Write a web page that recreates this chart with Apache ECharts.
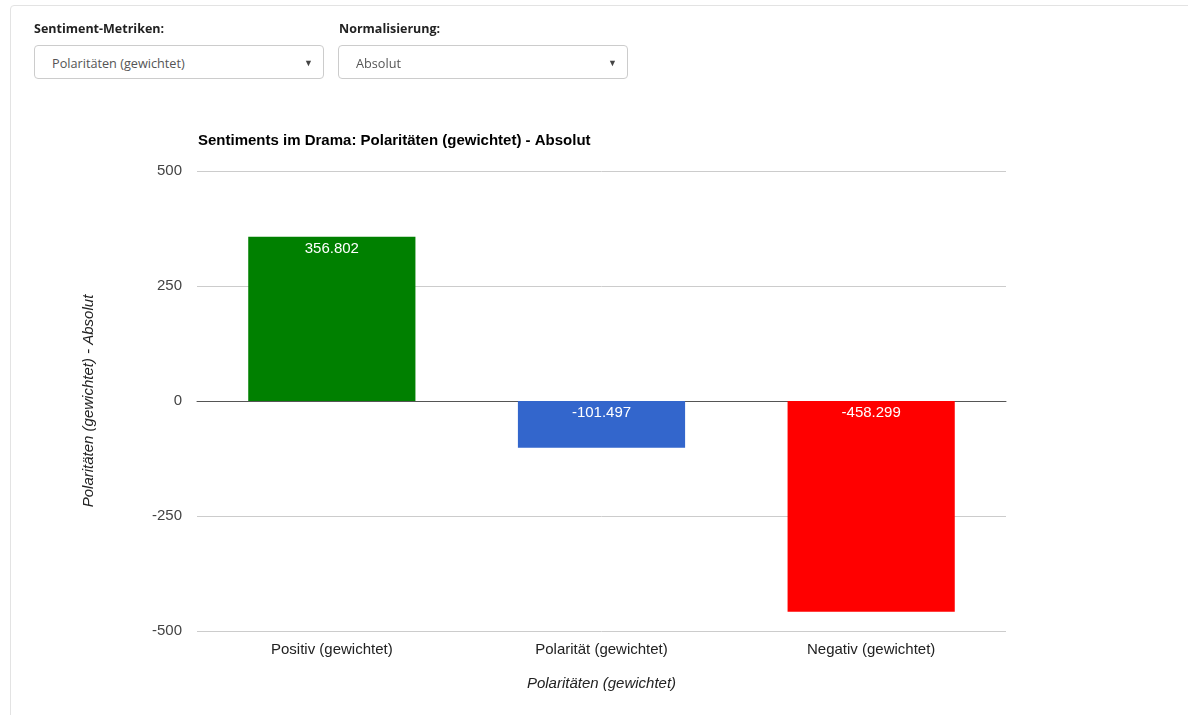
<!DOCTYPE html>
<html><head><meta charset="utf-8">
<script src="https://cdn.jsdelivr.net/npm/echarts@6/dist/echarts.min.js"></script>
<style>
html,body{margin:0;padding:0;background:#fff;width:1188px;height:715px;overflow:hidden;font-family:"Open Sans",sans-serif;}
#panel{position:absolute;left:10px;top:5px;width:1200px;height:720px;border:1px solid #e3e3e3;border-radius:4px;box-sizing:border-box;}
.lbl{position:absolute;top:20px;font-size:12.5px;font-weight:700;color:#222;}
.sel{position:absolute;top:45px;height:34px;border:1px solid #ccc;border-radius:4px;box-sizing:border-box;font-size:12.7px;color:#555;line-height:34px;padding-left:17px;background:#fff;}
.sel span.arr{position:absolute;right:10px;top:0;font-size:9px;color:#444;}
#chart{position:absolute;left:0;top:0;width:1188px;height:715px;}
</style></head>
<body>
<div id="panel"></div>
<div id="chart"></div>
<div class="lbl" style="left:34px">Sentiment-Metriken:</div>
<div class="lbl" style="left:339px">Normalisierung:</div>
<div class="sel" style="left:34px;width:290px">Polaritäten (gewichtet)<span class="arr">▼</span></div>
<div class="sel" style="left:338px;width:290px">Absolut<span class="arr">▼</span></div>
<script>
const categories = ["Positiv (gewichtet)", "Polarität (gewichtet)", "Negativ (gewichtet)"];
const values = [356.802, -101.497, -458.299];
const barColors = ["#008000", "#3366cc", "#ff0000"];
const titleText = "Sentiments im Drama: Polaritäten (gewichtet) - Absolut";
const yAxisName = "Polaritäten (gewichtet) - Absolut";
const xAxisName = "Polaritäten (gewichtet)";

const chart = echarts.init(document.getElementById('chart'), null, {renderer:'canvas'});
const F = "Arial, 'Liberation Sans', sans-serif";
chart.setOption({
  animation:false,
  title:{text:titleText,left:198,top:133,padding:0,textStyle:{fontFamily:F,fontSize:15,fontWeight:'bold',color:'#000'}},
  grid:{left:197,right:182,top:171,bottom:84},
  xAxis:{type:'category',data:categories,
    name:xAxisName,nameLocation:'middle',nameGap:45,
    nameTextStyle:{fontFamily:F,fontSize:15,fontStyle:'italic',color:'#222'},
    axisLine:{show:true,onZero:true,lineStyle:{color:'#555',width:1}},
    axisTick:{show:false},
    axisLabel:{fontFamily:F,fontSize:15,color:'#222',margin:11}},
  yAxis:{type:'value',min:-500,max:500,interval:250,
    name:yAxisName,nameLocation:'middle',nameGap:101,nameRotate:90,
    nameTextStyle:{fontFamily:F,fontSize:15,fontStyle:'italic',color:'#222'},
    axisLine:{show:false},axisTick:{show:false},
    axisLabel:{fontFamily:F,fontSize:15,color:'#444',margin:15},
    splitLine:{lineStyle:{color:'#cccccc',width:1}}},
  series:[{type:'bar',barWidth:'62%',
    data:values.map((v,i)=>({value:v,itemStyle:{color:barColors[i]}})),
    label:{show:true,position:'insideTop',fontFamily:F,fontSize:15,color:'#fff',distance:4,
      formatter:p=>p.value.toFixed(3)}
  }]
});
</script>
</body></html>
